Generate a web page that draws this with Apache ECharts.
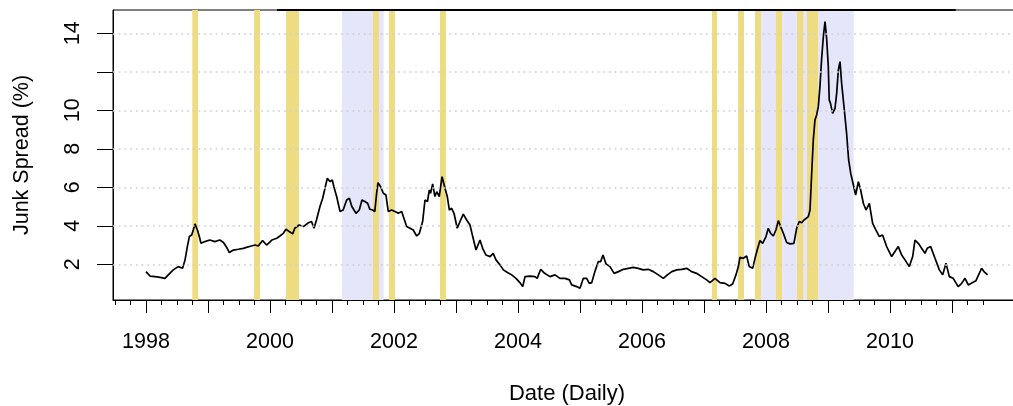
<!DOCTYPE html>
<html>
<head>
<meta charset="utf-8">
<script src="https://cdn.jsdelivr.net/npm/echarts@6/dist/echarts.min.js"></script>
<style>
  html, body { margin: 0; padding: 0; background: #fff; }
  #chart { width: 1013px; height: 406px; }
</style>
</head>
<body>
<div id="chart"></div>
<script>
// Daily junk-bond spread over Treasuries, decimal years
const dates = [
  1998.000, 1998.065, 1998.145, 1998.226, 1998.306, 1998.360, 1998.440, 1998.520, 1998.590, 1998.630,
  1998.667, 1998.700, 1998.737, 1998.763, 1998.790, 1998.830, 1998.860, 1998.887, 1998.950, 1999.030,
  1999.110, 1999.190, 1999.250, 1999.310, 1999.344, 1999.410, 1999.490, 1999.570, 1999.620, 1999.700,
  1999.760, 1999.810, 1999.880, 1999.946, 2000.030, 2000.110, 2000.160, 2000.215, 2000.258, 2000.310,
  2000.366, 2000.400, 2000.470, 2000.540, 2000.620, 2000.670, 2000.710, 2000.750, 2000.806, 2000.850,
  2000.887, 2000.925, 2000.970, 2001.005, 2001.030, 2001.075, 2001.130, 2001.180, 2001.237, 2001.280,
  2001.320, 2001.387, 2001.440, 2001.484, 2001.530, 2001.575, 2001.610, 2001.656, 2001.690, 2001.720,
  2001.742, 2001.785, 2001.828, 2001.870, 2001.908, 2001.960, 2002.016, 2002.070, 2002.124, 2002.160,
  2002.204, 2002.258, 2002.310, 2002.366, 2002.410, 2002.462, 2002.500, 2002.540, 2002.570, 2002.590,
  2002.624, 2002.660, 2002.690, 2002.730, 2002.775, 2002.823, 2002.860, 2002.893, 2002.930, 2002.968,
  2003.020, 2003.075, 2003.118, 2003.172, 2003.226, 2003.270, 2003.323, 2003.387, 2003.430, 2003.484,
  2003.550, 2003.600, 2003.645, 2003.710, 2003.764, 2003.830, 2003.898, 2003.968, 2004.030, 2004.076,
  2004.113, 2004.194, 2004.274, 2004.310, 2004.366, 2004.430, 2004.516, 2004.597, 2004.677, 2004.758,
  2004.830, 2004.866, 2004.947, 2005.000, 2005.054, 2005.108, 2005.150, 2005.190, 2005.240, 2005.296,
  2005.333, 2005.371, 2005.420, 2005.484, 2005.550, 2005.620, 2005.700, 2005.780, 2005.860, 2005.940,
  2006.020, 2006.100, 2006.183, 2006.264, 2006.344, 2006.410, 2006.480, 2006.560, 2006.640, 2006.720,
  2006.800, 2006.880, 2006.963, 2007.043, 2007.097, 2007.177, 2007.258, 2007.340, 2007.408, 2007.462,
  2007.516, 2007.554, 2007.580, 2007.634, 2007.688, 2007.730, 2007.785, 2007.823, 2007.866, 2007.903,
  2007.946, 2008.000, 2008.037, 2008.075, 2008.118, 2008.160, 2008.199, 2008.236, 2008.280, 2008.333,
  2008.387, 2008.450, 2008.495, 2008.537, 2008.575, 2008.613, 2008.683, 2008.710, 2008.737, 2008.763,
  2008.790, 2008.817, 2008.844, 2008.870, 2008.898, 2008.925, 2008.952, 2008.978, 2009.005, 2009.020,
  2009.040, 2009.075, 2009.113, 2009.140, 2009.167, 2009.194, 2009.220, 2009.258, 2009.300, 2009.333,
  2009.366, 2009.410, 2009.446, 2009.490, 2009.527, 2009.570, 2009.613, 2009.667, 2009.720, 2009.774,
  2009.828, 2009.880, 2009.946, 2010.027, 2010.080, 2010.134, 2010.188, 2010.242, 2010.312, 2010.366,
  2010.403, 2010.457, 2010.510, 2010.564, 2010.600, 2010.656, 2010.726, 2010.796, 2010.850, 2010.903,
  2010.957, 2011.020, 2011.100, 2011.156, 2011.210, 2011.263, 2011.333, 2011.387, 2011.440, 2011.478,
  2011.516, 2011.548, 2011.575
];
const spread = [
  1.62, 1.39, 1.36, 1.32, 1.27, 1.45, 1.71, 1.88, 1.79, 2.23,
  2.92, 3.44, 3.52, 3.78, 4.10, 3.78, 3.44, 3.09, 3.18, 3.26,
  3.18, 3.26, 3.13, 2.83, 2.61, 2.74, 2.78, 2.83, 2.88, 2.95,
  3.00, 2.95, 3.23, 3.00, 3.26, 3.35, 3.47, 3.61, 3.82, 3.70,
  3.58, 3.87, 4.04, 3.96, 4.16, 4.22, 3.87, 4.30, 5.00, 5.43,
  5.95, 6.47, 6.29, 6.38, 6.03, 5.52, 4.74, 4.82, 5.34, 5.43,
  5.00, 4.65, 4.82, 5.34, 5.26, 5.17, 4.86, 4.82, 4.74, 5.69,
  6.24, 6.03, 5.69, 5.60, 4.74, 4.82, 4.74, 4.65, 4.74, 4.39,
  3.96, 3.87, 3.78, 3.47, 3.61, 4.22, 5.34, 5.26, 5.86, 5.69,
  6.17, 5.52, 5.77, 5.52, 6.55, 5.95, 5.52, 4.82, 4.91, 4.65,
  3.87, 4.30, 4.61, 4.30, 4.04, 3.44, 2.74, 3.26, 2.83, 2.48,
  2.40, 2.57, 2.23, 1.97, 1.71, 1.57, 1.45, 1.27, 1.05, 0.84,
  1.36, 1.39, 1.36, 1.27, 1.74, 1.53, 1.36, 1.45, 1.27, 1.27,
  1.19, 0.93, 0.84, 0.75, 1.27, 1.27, 1.01, 1.05, 1.62, 2.14,
  2.14, 2.48, 2.02, 1.88, 1.53, 1.62, 1.74, 1.79, 1.84, 1.79,
  1.71, 1.74, 1.62, 1.45, 1.27, 1.45, 1.62, 1.71, 1.74, 1.79,
  1.62, 1.53, 1.36, 1.19, 1.05, 1.27, 1.05, 1.01, 0.87, 0.98,
  1.45, 1.88, 2.36, 2.31, 2.43, 1.88, 1.79, 2.31, 2.83, 3.23,
  3.09, 3.44, 3.87, 3.61, 3.47, 3.78, 4.27, 3.96, 3.61, 3.13,
  3.06, 3.09, 3.87, 4.22, 4.16, 4.30, 4.48, 4.82, 6.73, 8.46,
  9.50, 9.76, 10.19, 11.23, 12.70, 13.83, 14.61, 13.74, 12.27, 10.54,
  10.36, 9.84, 10.10, 10.88, 12.10, 12.53, 11.40, 10.19, 8.81, 7.42,
  6.73, 6.12, 5.60, 6.29, 5.86, 5.17, 4.82, 5.17, 4.13, 3.78,
  3.44, 3.52, 2.92, 2.40, 2.66, 2.92, 2.48, 2.23, 1.88, 2.40,
  3.26, 3.09, 2.83, 2.57, 2.83, 2.92, 2.31, 1.71, 1.45, 2.05,
  1.36, 1.27, 0.84, 1.01, 1.27, 0.93, 1.05, 1.15, 1.53, 1.79,
  1.62, 1.53, 1.45
];

// NBER recessions (start, end)
const recessions = [
  [2001.161, 2001.833],
  [2007.919, 2009.415]
];
// Market stress episodes (start, end)
const events = [
  [1998.747, 1998.839], [1999.742, 1999.839], [2000.258, 2000.468],
  [2001.661, 2001.758], [2001.919, 2002.016], [2002.742, 2002.839],
  [2007.129, 2007.210], [2007.548, 2007.645], [2007.823, 2007.919],
  [2008.161, 2008.258], [2008.500, 2008.600], [2008.661, 2008.839]
];

// Axis ticks and labels
const yearTicks = [1998, 1999, 2000, 2001, 2002, 2003, 2004, 2005, 2006, 2007, 2008, 2009, 2010, 2011];
const yearLabels = [1998, 2000, 2002, 2004, 2006, 2008, 2010];
const quarterTicks = [
  1997.5, 1997.75, 1998.25, 1998.5, 1998.75, 1999.25, 1999.5, 1999.75,
  2000.25, 2000.5, 2000.75, 2001.25, 2001.5, 2001.75, 2002.25, 2002.5, 2002.75,
  2003.25, 2003.5, 2003.75, 2004.25, 2004.5, 2004.75, 2005.25, 2005.5, 2005.75,
  2006.25, 2006.5, 2006.75, 2007.25, 2007.5, 2007.75, 2008.25, 2008.5, 2008.75,
  2009.25, 2009.5, 2009.75, 2010.25, 2010.5, 2010.75, 2011.25, 2011.5
];
const spreadTicks = [2, 4, 6, 8, 10, 12, 14];
const spreadLabels = [2, 4, 6, 8, 10, 14];

const X_MIN = 1997.468, X_MAX = 2012.113;
const Y_MIN = 0.145, Y_MAX = 15.21;
const FONT = "'Liberation Sans', Arial, Helvetica, sans-serif";

const chart = echarts.init(document.getElementById('chart'), null, { renderer: 'canvas' });

const lineData = dates.map((d, i) => [d, spread[i]]);

const baseX = {
  type: 'value', min: X_MIN, max: X_MAX, position: 'bottom',
  splitLine: { show: false }
};

chart.setOption({
  animation: false,
  backgroundColor: '#ffffff',
  grid: {
    left: 113, top: 10, width: 908, height: 290,
    containLabel: false, outerBoundsMode: 'none',
    show: true, borderColor: '#000', borderWidth: 1, backgroundColor: 'transparent'
  },
  xAxis: [
    Object.assign({}, baseX, {
      name: 'Date (Daily)',
      nameLocation: 'middle',
      nameGap: 83,
      nameTextStyle: { fontFamily: FONT, fontSize: 22, color: '#000' },
      axisLine: { show: true, lineStyle: { color: '#000', width: 1 } },
      axisTick: { show: true, length: 13, customValues: yearTicks, lineStyle: { color: '#000', width: 1 } },
      axisLabel: {
        show: true, customValues: yearLabels, margin: 31,
        fontFamily: FONT, fontSize: 21.5, color: '#000',
        formatter: v => String(Math.round(v))
      }
    }),
    Object.assign({}, baseX, {
      axisLine: { show: false },
      axisTick: { show: true, length: 5, customValues: quarterTicks, lineStyle: { color: '#000', width: 1 } },
      axisLabel: { show: false }
    })
  ],
  yAxis: {
    type: 'value', min: Y_MIN, max: Y_MAX,
    name: 'Junk Spread (%)',
    nameLocation: 'middle',
    nameGap: 80,
    nameRotate: 90,
    nameTextStyle: { fontFamily: FONT, fontSize: 21.5, color: '#000' },
    splitLine: { show: false },
    axisLine: { show: true, lineStyle: { color: '#000', width: 1 } },
    axisTick: { show: true, length: 16, customValues: spreadTicks, lineStyle: { color: '#000', width: 1 } },
    axisLabel: {
      show: true, customValues: spreadLabels, rotate: 90, margin: 29,
      fontFamily: FONT, fontSize: 21.5, color: '#000',
      formatter: v => String(Math.round(v))
    }
  },
  series: [
    {
      // recession shading
      type: 'line', data: [], z: 1, silent: true,
      markArea: {
        silent: true,
        itemStyle: { color: '#E6E6FA' },
        data: recessions.map(r => [{ xAxis: r[0] }, { xAxis: r[1] }])
      }
    },
    {
      // dotted horizontal guides
      type: 'line', data: [], z: 2, silent: true,
      markLine: {
        silent: true, symbol: ['none', 'none'], label: { show: false },
        lineStyle: { color: '#d0d0d0', type: [1.8, 3.9], width: 1.5 },
        data: spreadTicks.map(v => ({ yAxis: v }))
      }
    },
    {
      // stress episode bands
      type: 'line', data: [], z: 3, silent: true,
      markArea: {
        silent: true,
        itemStyle: { color: '#EEDC82' },
        data: events.map(r => [{ xAxis: r[0] }, { xAxis: r[1] }])
      }
    },
    {
      // heavier segment along the top frame
      type: 'line', data: [], z: 5, silent: true, clip: false,
      markLine: {
        silent: true, symbol: ['none', 'none'], label: { show: false },
        lineStyle: { color: '#000', type: 'solid', width: 2 },
        data: [[{ coord: [2000.113, Y_MAX] }, { coord: [2011.06, Y_MAX] }]]
      }
    },
    {
      name: 'Junk Spread',
      type: 'line', data: lineData, z: 4,
      showSymbol: false, symbol: 'none',
      lineStyle: { color: '#000', width: 1.7 },
      silent: true
    }
  ]
});
</script>
</body>
</html>
